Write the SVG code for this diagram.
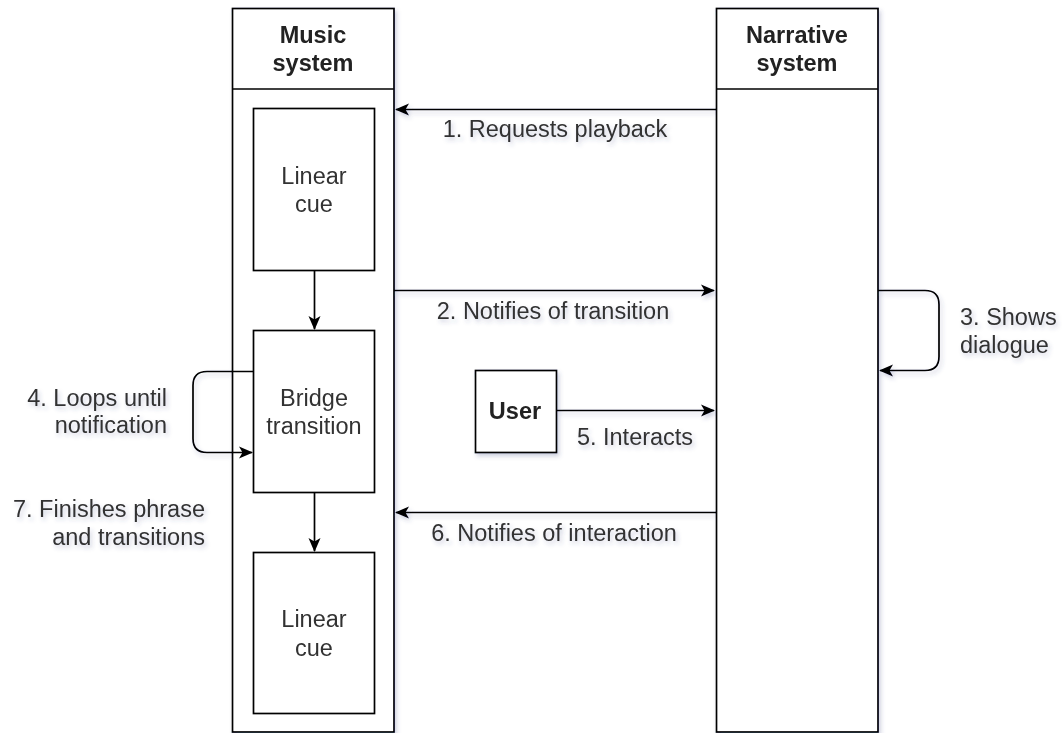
<svg xmlns="http://www.w3.org/2000/svg" width="1064" height="733" viewBox="0 0 1064 733">
<style>
.box{fill:#fff;stroke:#000;stroke-width:1.7}
.ln{fill:none;stroke:#000;stroke-width:1.7}
.t{font-family:"Liberation Sans",Arial,sans-serif;font-size:23.5px;fill:#333}
.b{font-weight:bold;fill:#222}
.c{text-anchor:middle}
.r{text-anchor:end}
</style>
<defs>
<filter id="sh" x="-10%" y="-10%" width="130%" height="130%">
<feDropShadow dx="2" dy="3" stdDeviation="2" flood-color="#3a4a80" flood-opacity="0.25"/>
</filter>
<marker id="ar" viewBox="0 0 14 14" refX="13" refY="7" markerWidth="14" markerHeight="14" markerUnits="userSpaceOnUse" orient="auto">
<path d="M0,1 L14,7 L0,13 L3.5,7 z" fill="#000"/>
</marker>
</defs>
<g filter="url(#sh)">
<g id="music-system">
<rect class="box" x="232.5" y="8.5" width="161.5" height="723.5"/>
<line class="ln" x1="232.5" y1="89" x2="394" y2="89"/>
<text class="t b c" x="313" y="43">Music</text>
<text class="t b c" x="313" y="71">system</text>
</g>
<g id="narrative-system">
<rect class="box" x="716.5" y="8.5" width="161.5" height="723.5"/>
<line class="ln" x1="716.5" y1="89" x2="878" y2="89"/>
<text class="t b c" x="797" y="43">Narrative</text>
<text class="t b c" x="797" y="71">system</text>
</g>
<g id="linear-cue-1">
<rect class="box" x="253.5" y="108.5" width="121" height="162"/>
<text class="t c" x="314" y="183.5">Linear</text>
<text class="t c" x="314" y="212">cue</text>
</g>
<g id="bridge-transition">
<rect class="box" x="253.5" y="330.5" width="121" height="162"/>
<text class="t c" x="314" y="405.5">Bridge</text>
<text class="t c" x="314" y="434">transition</text>
</g>
<g id="linear-cue-2">
<rect class="box" x="253.5" y="552.5" width="121" height="161"/>
<text class="t c" x="314" y="627">Linear</text>
<text class="t c" x="314" y="655.5">cue</text>
</g>
<g id="user">
<rect class="box" x="475.5" y="370.5" width="81" height="82"/>
<text class="t b c" x="515" y="419">User</text>
</g>
<g id="connectors">
<line class="ln" x1="716" y1="109.5" x2="396" y2="109.5" marker-end="url(#ar)"/>
<line class="ln" x1="394" y1="290.5" x2="714" y2="290.5" marker-end="url(#ar)"/>
<line class="ln" x1="556" y1="410.5" x2="714" y2="410.5" marker-end="url(#ar)"/>
<line class="ln" x1="716" y1="512.5" x2="396" y2="512.5" marker-end="url(#ar)"/>
<line class="ln" x1="314.5" y1="270.5" x2="314.5" y2="329" marker-end="url(#ar)"/>
<line class="ln" x1="314.5" y1="492.5" x2="314.5" y2="551" marker-end="url(#ar)"/>
<path class="ln" d="M878,290.5 H925 Q939,290.5 939,304.5 V356.5 Q939,370.5 925,370.5 H880" marker-end="url(#ar)"/>
<path class="ln" d="M253,371.5 H207 Q193,371.5 193,385.5 V438.5 Q193,452.5 207,452.5 H252" marker-end="url(#ar)"/>
<text class="t c" x="555" y="137">1. Requests playback</text>
<text class="t c" x="553" y="319">2. Notifies of transition</text>
<text class="t c" x="635" y="445">5. Interacts</text>
<text class="t c" x="554" y="541">6. Notifies of interaction</text>
<text class="t" x="960" y="325">3. Shows</text>
<text class="t" x="960" y="353">dialogue</text>
<text class="t r" x="167" y="406">4. Loops until</text>
<text class="t r" x="167" y="433">notification</text>
<text class="t r" x="205" y="517">7. Finishes phrase</text>
<text class="t r" x="205" y="545">and transitions</text>
</g>
</g>
</svg>
